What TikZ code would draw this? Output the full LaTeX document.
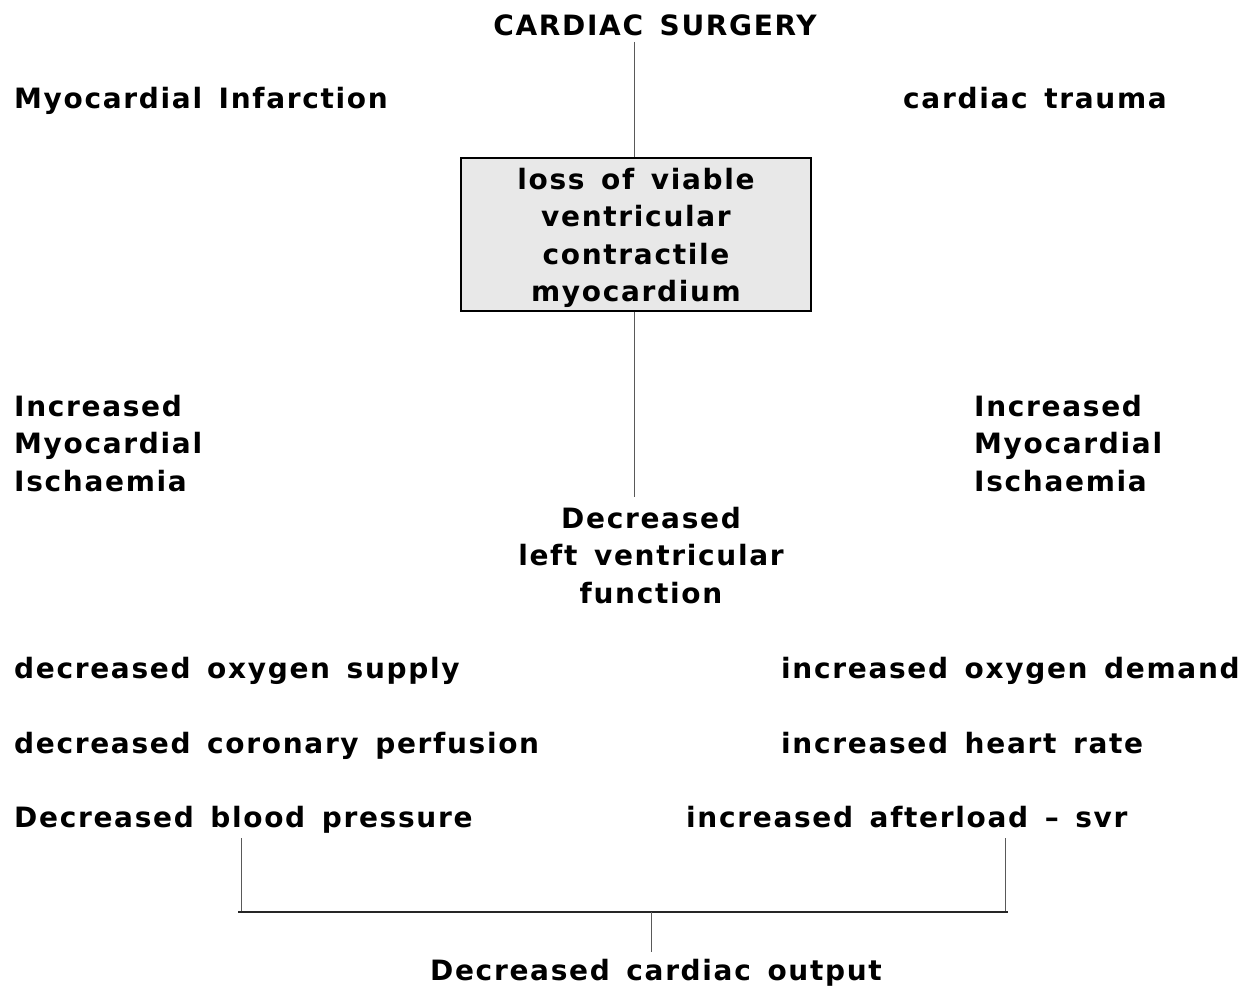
\documentclass[tikz,border=0pt]{standalone}
\usepackage{fontspec}
\setmainfont{DejaVu Sans}[LetterSpace=6,WordSpace=1.45]
\begin{document}
\begin{tikzpicture}[x=1pt,y=-1pt,
  lbl/.style={inner sep=0pt, font=\bfseries\fontsize{28}{37.5}\selectfont},
  ml/.style={lbl, align=left, anchor=north west},
  boxnode/.style={lbl, align=center, draw=black, line width=1.6pt, fill=black!9,
    minimum width=350pt, minimum height=153pt},
  link/.style={draw=black!65, line width=0.9pt},
  bar/.style={draw=black!85, line width=1.7pt}]
\useasboundingbox (0,0) rectangle (1252,990);

\node[lbl, anchor=base] (title) at (655,36) {CARDIAC SURGERY};
\node[lbl, anchor=base west] (mi) at (14,108) {Myocardial Infarction};
\node[lbl, anchor=base west] (ct) at (903,108) {cardiac trauma};
\node[boxnode] (loss) at (636,234.5) {\rule{0pt}{27.6pt}loss of viable\\ventricular\\contractile\\myocardium};
\node[ml] (imL) at (14,394) {\rule{0pt}{22pt}Increased\\Myocardial\\Ischaemia};
\node[ml] (imR) at (974,394) {\rule{0pt}{22pt}Increased\\Myocardial\\Ischaemia};
\node[lbl, align=center, anchor=north] (lvf) at (651,506) {\rule{0pt}{22pt}Decreased\\left ventricular\\function};
\node[lbl, anchor=base west] (dos) at (14,678) {decreased oxygen supply};
\node[lbl, anchor=base west] (dcp) at (14,753) {decreased coronary perfusion};
\node[lbl, anchor=base west] (dbp) at (14,827) {Decreased blood pressure};
\node[lbl, anchor=base west] (iod) at (781,678) {increased oxygen demand};
\node[lbl, anchor=base west] (ihr) at (781,753) {increased heart rate};
\node[lbl, anchor=base west] (ia) at (686,827) {increased afterload – svr};
\node[lbl, anchor=base] (dco) at (656,980) {Decreased cardiac output};

\coordinate (c1) at (634,42);
\coordinate (c2) at (634,497);
\draw[link] (c1) -- (c1 |- loss.north);
\draw[link] (c2 |- loss.south) -- (c2);

\coordinate (bl) at (241,838);
\coordinate (br) at (1005,838);
\coordinate (hl) at (238,912);
\coordinate (hr) at (1008,912);
\coordinate (bc) at (651,952);
\draw[link] (bl) -- (bl |- hl);
\draw[link] (br) -- (br |- hr);
\draw[bar] (hl) -- (hr);
\draw[link] (bc |- hl) -- (bc);
\end{tikzpicture}
\end{document}
